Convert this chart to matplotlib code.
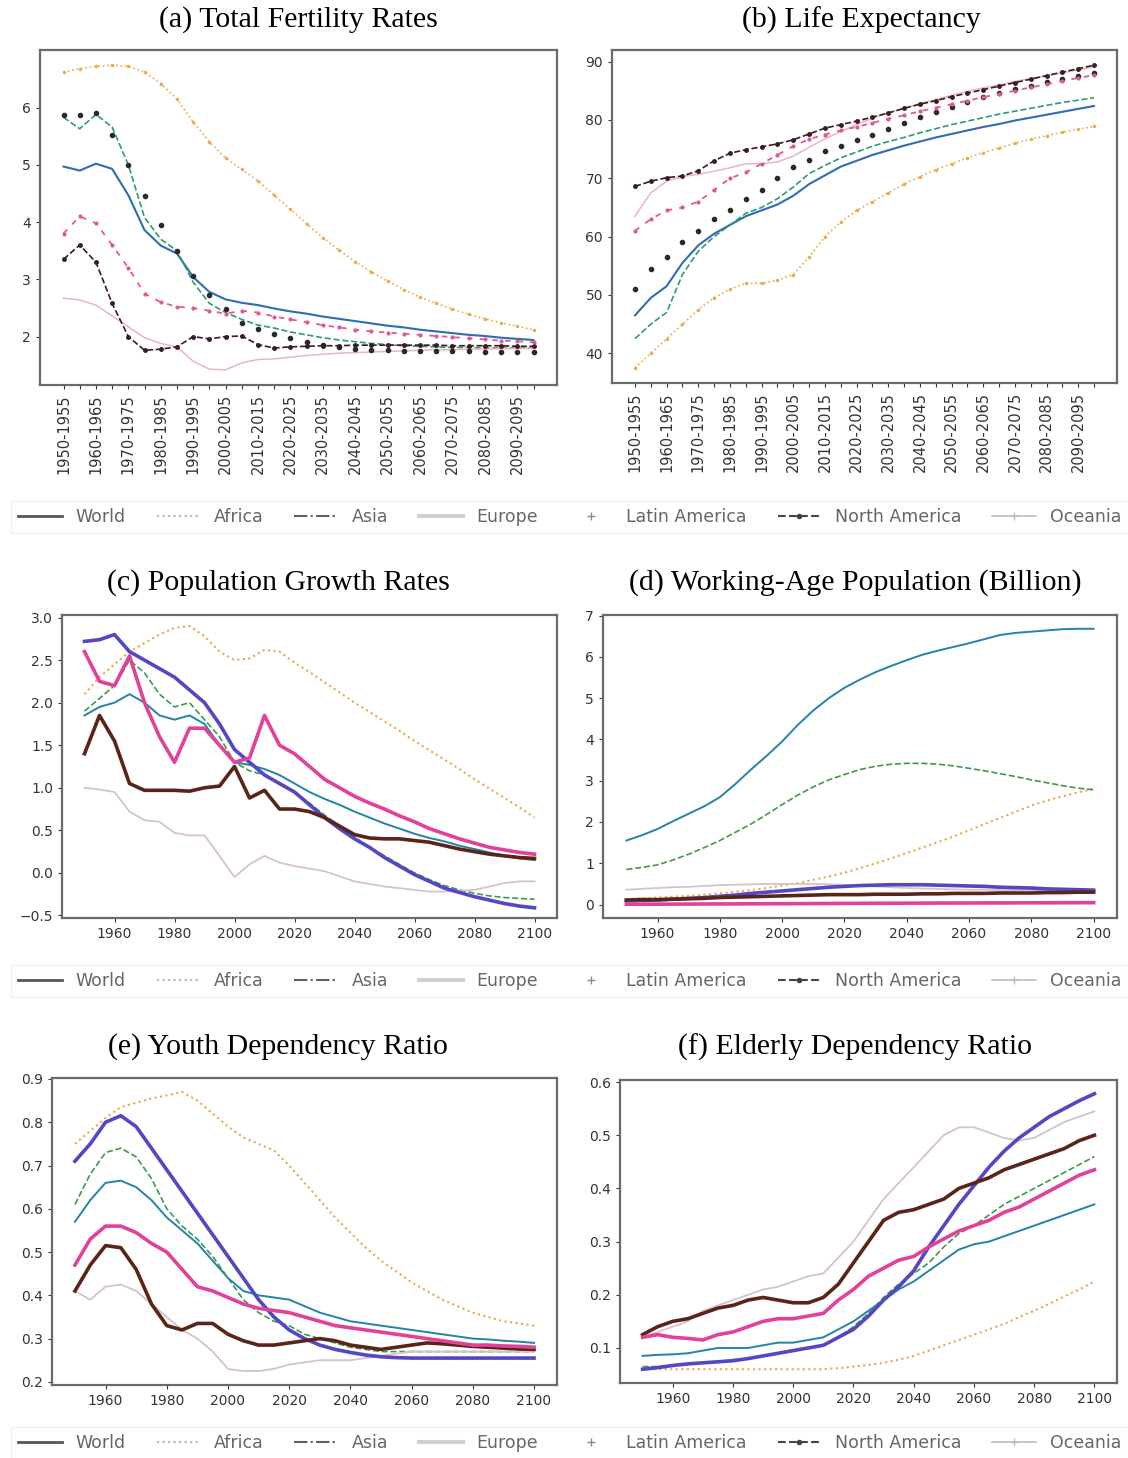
import numpy as np
import matplotlib
matplotlib.use('Agg')
import matplotlib.pyplot as plt
from matplotlib.lines import Line2D


REGIONS = ['World', 'Africa', 'Asia', 'Europe', 'Latin America', 'North America', 'Oceania']

PERIODS = [
    '1950-1955', '1955-1960', '1960-1965', '1965-1970', '1970-1975', '1975-1980',
    '1980-1985', '1985-1990', '1990-1995', '1995-2000', '2000-2005', '2005-2010',
    '2010-2015', '2015-2020', '2020-2025', '2025-2030', '2030-2035', '2035-2040',
    '2040-2045', '2045-2050', '2050-2055', '2055-2060', '2060-2065', '2065-2070',
    '2070-2075', '2075-2080', '2080-2085', '2085-2090', '2090-2095', '2095-2100',
]
YEARS = [1950, 1955, 1960, 1965, 1970, 1975, 1980, 1985, 1990, 1995, 2000,
         2005, 2010, 2015, 2020, 2025, 2030, 2035, 2040, 2045, 2050, 2055,
         2060, 2065, 2070, 2075, 2080, 2085, 2090, 2095, 2100]

# (a) total fertility rate, per 5-year period
tfr = {
    'World': [4.97, 4.90, 5.02, 4.93, 4.47, 3.86, 3.59, 3.45, 3.04, 2.78, 2.65, 2.59, 2.55, 2.49, 2.44,
              2.40, 2.35, 2.31, 2.27, 2.23, 2.19, 2.16, 2.12, 2.09, 2.06, 2.03, 2.01, 1.98, 1.96, 1.94],
    'Africa': [6.62, 6.68, 6.72, 6.74, 6.72, 6.62, 6.42, 6.15, 5.75, 5.40, 5.12, 4.92, 4.72, 4.47, 4.22,
               3.97, 3.73, 3.51, 3.31, 3.13, 2.97, 2.82, 2.69, 2.58, 2.48, 2.39, 2.31, 2.24, 2.18, 2.12],
    'Asia': [5.83, 5.63, 5.88, 5.66, 5.00, 4.08, 3.70, 3.50, 2.95, 2.58, 2.42, 2.30, 2.20, 2.15, 2.08,
             2.03, 1.98, 1.94, 1.91, 1.88, 1.86, 1.84, 1.83, 1.82, 1.81, 1.81, 1.80, 1.80, 1.80, 1.80],
    'Europe': [2.67, 2.64, 2.55, 2.36, 2.17, 1.98, 1.88, 1.82, 1.57, 1.43, 1.42, 1.54, 1.60, 1.61, 1.64,
               1.67, 1.69, 1.71, 1.72, 1.73, 1.74, 1.75, 1.76, 1.77, 1.77, 1.78, 1.78, 1.79, 1.79, 1.80],
    'Latin America': [5.87, 5.87, 5.90, 5.52, 5.00, 4.45, 3.95, 3.50, 3.05, 2.73, 2.48, 2.24, 2.13, 2.04, 1.97,
                      1.91, 1.86, 1.82, 1.79, 1.77, 1.76, 1.75, 1.75, 1.74, 1.74, 1.74, 1.73, 1.73, 1.73, 1.73],
    'North America': [3.35, 3.60, 3.30, 2.58, 2.00, 1.76, 1.78, 1.82, 2.00, 1.96, 2.00, 2.01, 1.86, 1.80, 1.82,
                      1.83, 1.84, 1.84, 1.85, 1.85, 1.85, 1.85, 1.85, 1.85, 1.84, 1.84, 1.84, 1.84, 1.83, 1.83],
    'Oceania': [3.80, 4.10, 3.98, 3.60, 3.20, 2.75, 2.60, 2.52, 2.50, 2.45, 2.40, 2.45, 2.42, 2.35, 2.30,
                2.25, 2.20, 2.16, 2.12, 2.09, 2.07, 2.05, 2.03, 2.01, 1.99, 1.97, 1.95, 1.93, 1.92, 1.90],
}

# (b) life expectancy, per 5-year period
life = {
    'World': [46.5, 49.5, 51.5, 55.5, 58.5, 60.5, 62.0, 63.5, 64.5, 65.5, 67.0, 69.0, 70.5, 72.0, 73.0,
              74.0, 74.8, 75.6, 76.3, 77.0, 77.6, 78.2, 78.8, 79.3, 79.9, 80.4, 80.9, 81.4, 81.9, 82.4],
    'Africa': [37.5, 40.0, 42.5, 45.0, 47.5, 49.5, 51.0, 52.0, 52.0, 52.5, 53.5, 56.5, 60.0, 62.5, 64.5,
               66.0, 67.5, 69.0, 70.3, 71.5, 72.5, 73.5, 74.4, 75.2, 76.0, 76.7, 77.3, 77.9, 78.4, 78.9],
    'Asia': [42.5, 45.0, 47.0, 53.5, 57.5, 60.0, 62.0, 64.0, 65.0, 66.5, 68.5, 70.8, 72.2, 73.5, 74.5,
             75.5, 76.3, 77.0, 77.8, 78.5, 79.2, 79.8, 80.4, 81.0, 81.5, 82.0, 82.5, 83.0, 83.4, 83.8],
    'Europe': [63.5, 67.5, 69.5, 70.3, 70.7, 71.2, 71.8, 72.5, 72.5, 72.8, 73.8, 75.3, 76.8, 78.0, 79.2,
               80.3, 81.2, 82.0, 82.8, 83.5, 84.2, 84.9, 85.5, 86.0, 86.6, 87.1, 87.6, 88.1, 88.6, 89.1],
    'Latin America': [51.0, 54.5, 56.5, 59.0, 61.0, 63.0, 64.5, 66.5, 68.0, 70.0, 72.0, 73.2, 74.6, 75.5, 76.5,
                      77.5, 78.5, 79.5, 80.5, 81.4, 82.3, 83.1, 83.9, 84.6, 85.3, 85.9, 86.5, 87.0, 87.5, 88.0],
    'North America': [68.6, 69.5, 70.1, 70.4, 71.3, 73.0, 74.3, 74.9, 75.4, 75.9, 76.6, 77.6, 78.6, 79.2, 79.8,
                      80.5, 81.2, 82.0, 82.7, 83.3, 84.0, 84.6, 85.2, 85.8, 86.4, 87.0, 87.6, 88.2, 88.8, 89.4],
    'Oceania': [61.0, 63.0, 64.5, 65.0, 66.0, 68.0, 70.0, 71.0, 72.5, 74.0, 75.5, 76.7, 77.5, 78.2, 78.8,
                79.5, 80.2, 80.8, 81.5, 82.1, 82.7, 83.3, 83.9, 84.5, 85.0, 85.6, 86.1, 86.7, 87.2, 87.7],
}

# (c) population growth rate (%), 1950..2100
growth = {
    'World': [1.85, 1.95, 2.0, 2.1, 2.0, 1.85, 1.8, 1.85, 1.75, 1.5, 1.3, 1.27, 1.22, 1.15, 1.05, 0.95,
              0.87, 0.8, 0.72, 0.65, 0.58, 0.52, 0.46, 0.41, 0.37, 0.32, 0.28, 0.24, 0.2, 0.17, 0.15],
    'Africa': [2.1, 2.3, 2.45, 2.6, 2.7, 2.8, 2.88, 2.9, 2.78, 2.6, 2.5, 2.52, 2.62, 2.6, 2.47, 2.36,
               2.24, 2.12, 2.0, 1.89, 1.78, 1.67, 1.55, 1.44, 1.33, 1.22, 1.1, 0.99, 0.88, 0.77, 0.65],
    'Asia': [1.9, 2.05, 2.2, 2.5, 2.35, 2.1, 1.95, 2.0, 1.8, 1.6, 1.3, 1.2, 1.15, 1.05, 0.95, 0.82,
             0.68, 0.55, 0.42, 0.3, 0.2, 0.1, 0.0, -0.08, -0.15, -0.2, -0.24, -0.27, -0.29, -0.3, -0.31],
    'Europe': [1.0, 0.98, 0.95, 0.72, 0.62, 0.6, 0.47, 0.44, 0.44, 0.2, -0.05, 0.1, 0.2, 0.12, 0.08, 0.05,
               0.02, -0.04, -0.1, -0.13, -0.16, -0.18, -0.2, -0.22, -0.22, -0.21, -0.2, -0.16, -0.12, -0.1, -0.1],
    'Latin America': [2.72, 2.74, 2.8, 2.6, 2.5, 2.4, 2.3, 2.15, 2.0, 1.75, 1.45, 1.3, 1.15, 1.05, 0.95, 0.8,
                      0.65, 0.52, 0.4, 0.3, 0.18, 0.08, -0.02, -0.1, -0.18, -0.23, -0.28, -0.32, -0.36, -0.39, -0.41],
    'North America': [1.4, 1.85, 1.55, 1.05, 0.97, 0.97, 0.97, 0.96, 1.0, 1.02, 1.25, 0.88, 0.97, 0.75, 0.75, 0.72,
                      0.65, 0.55, 0.45, 0.41, 0.4, 0.4, 0.38, 0.36, 0.32, 0.28, 0.25, 0.22, 0.2, 0.18, 0.17],
    'Oceania': [2.6, 2.25, 2.2, 2.55, 2.0, 1.6, 1.3, 1.7, 1.7, 1.5, 1.3, 1.35, 1.85, 1.5, 1.4, 1.25,
                1.1, 1.0, 0.9, 0.82, 0.75, 0.67, 0.6, 0.52, 0.46, 0.4, 0.35, 0.3, 0.27, 0.24, 0.22],
}

# (d) working-age population (billion), 1950..2100
working = {
    'World': [1.55, 1.68, 1.83, 2.02, 2.2, 2.38, 2.6, 2.92, 3.27, 3.6, 3.95, 4.35, 4.7, 5.0, 5.25, 5.45,
              5.63, 5.78, 5.92, 6.05, 6.15, 6.24, 6.33, 6.43, 6.53, 6.58, 6.61, 6.64, 6.67, 6.68, 6.68],
    'Africa': [0.13, 0.15, 0.17, 0.19, 0.21, 0.24, 0.27, 0.31, 0.35, 0.4, 0.46, 0.52, 0.6, 0.68, 0.77, 0.88,
               1.0, 1.12, 1.25, 1.38, 1.51, 1.65, 1.8, 1.95, 2.1, 2.25, 2.4, 2.52, 2.62, 2.72, 2.8],
    'Asia': [0.85, 0.9, 0.96, 1.08, 1.22, 1.38, 1.55, 1.75, 1.95, 2.18, 2.42, 2.65, 2.85, 3.02, 3.15, 3.27,
             3.35, 3.4, 3.42, 3.42, 3.4, 3.36, 3.3, 3.24, 3.17, 3.1, 3.02, 2.95, 2.88, 2.82, 2.78],
    'Europe': [0.36, 0.38, 0.4, 0.42, 0.43, 0.45, 0.47, 0.48, 0.49, 0.5, 0.5, 0.5, 0.5, 0.49, 0.48, 0.46,
               0.44, 0.42, 0.4, 0.39, 0.38, 0.37, 0.36, 0.36, 0.35, 0.35, 0.35, 0.34, 0.34, 0.34, 0.34],
    'Latin America': [0.09, 0.1, 0.11, 0.13, 0.15, 0.17, 0.2, 0.23, 0.27, 0.3, 0.33, 0.36, 0.39, 0.42, 0.44, 0.46,
                      0.47, 0.48, 0.48, 0.48, 0.47, 0.46, 0.45, 0.44, 0.42, 0.41, 0.4, 0.38, 0.37, 0.36, 0.35],
    'North America': [0.11, 0.12, 0.12, 0.13, 0.14, 0.15, 0.17, 0.18, 0.19, 0.2, 0.21, 0.22, 0.23, 0.24, 0.24, 0.24,
                      0.25, 0.25, 0.25, 0.26, 0.26, 0.27, 0.27, 0.27, 0.28, 0.28, 0.28, 0.29, 0.29, 0.3, 0.3],
    'Oceania': [0.008, 0.009, 0.01, 0.011, 0.012, 0.014, 0.015, 0.016, 0.018, 0.019, 0.02, 0.022, 0.024, 0.026, 0.028, 0.029,
                0.031, 0.032, 0.034, 0.035, 0.036, 0.037, 0.038, 0.039, 0.04, 0.041, 0.042, 0.043, 0.044, 0.045, 0.046],
}

# (e) youth dependency ratio, 1950..2100
youth = {
    'World': [0.57, 0.62, 0.66, 0.665, 0.65, 0.62, 0.58, 0.55, 0.52, 0.48, 0.44, 0.41, 0.4, 0.395, 0.39, 0.375,
              0.36, 0.35, 0.34, 0.335, 0.33, 0.325, 0.32, 0.315, 0.31, 0.305, 0.3, 0.298, 0.295, 0.293, 0.29],
    'Africa': [0.75, 0.78, 0.81, 0.835, 0.845, 0.855, 0.862, 0.87, 0.85, 0.82, 0.79, 0.765, 0.75, 0.735, 0.7, 0.66,
               0.62, 0.58, 0.545, 0.51, 0.48, 0.455, 0.43, 0.41, 0.39, 0.375, 0.36, 0.35, 0.34, 0.335, 0.33],
    'Asia': [0.61, 0.68, 0.73, 0.74, 0.72, 0.67, 0.6, 0.56, 0.53, 0.49, 0.44, 0.39, 0.36, 0.34, 0.33, 0.31,
             0.3, 0.29, 0.28, 0.275, 0.27, 0.27, 0.27, 0.27, 0.27, 0.27, 0.27, 0.27, 0.27, 0.27, 0.27],
    'Europe': [0.41, 0.39, 0.42, 0.425, 0.41, 0.38, 0.35, 0.32, 0.3, 0.27, 0.23, 0.225, 0.225, 0.23, 0.24, 0.245,
               0.25, 0.25, 0.25, 0.255, 0.26, 0.265, 0.27, 0.27, 0.27, 0.27, 0.27, 0.27, 0.27, 0.27, 0.27],
    'Latin America': [0.71, 0.75, 0.8, 0.815, 0.79, 0.74, 0.69, 0.64, 0.59, 0.54, 0.49, 0.44, 0.39, 0.35, 0.32, 0.3,
                      0.285, 0.275, 0.268, 0.262, 0.258, 0.256, 0.255, 0.255, 0.255, 0.255, 0.255, 0.255, 0.255, 0.255, 0.255],
    'North America': [0.41, 0.47, 0.515, 0.51, 0.46, 0.38, 0.33, 0.32, 0.335, 0.335, 0.31, 0.295, 0.285, 0.285, 0.29, 0.295,
                      0.3, 0.295, 0.285, 0.28, 0.275, 0.28, 0.285, 0.29, 0.288, 0.285, 0.282, 0.28, 0.278, 0.276, 0.275],
    'Oceania': [0.47, 0.53, 0.56, 0.56, 0.545, 0.52, 0.5, 0.46, 0.42, 0.41, 0.395, 0.38, 0.37, 0.365, 0.36, 0.35,
                0.34, 0.33, 0.325, 0.32, 0.315, 0.31, 0.305, 0.3, 0.295, 0.29, 0.285, 0.285, 0.283, 0.282, 0.28],
}

# (f) elderly dependency ratio, 1950..2100
elderly = {
    'World': [0.085, 0.087, 0.088, 0.09, 0.095, 0.1, 0.1, 0.1, 0.105, 0.11, 0.11, 0.115, 0.12, 0.135, 0.15, 0.17,
              0.19, 0.21, 0.225, 0.245, 0.265, 0.285, 0.295, 0.3, 0.31, 0.32, 0.33, 0.34, 0.35, 0.36, 0.37],
    'Africa': [0.06, 0.06, 0.06, 0.06, 0.06, 0.06, 0.06, 0.06, 0.06, 0.06, 0.06, 0.06, 0.06, 0.062, 0.065, 0.068,
               0.072, 0.078, 0.085, 0.095, 0.105, 0.115, 0.125, 0.135, 0.145, 0.158, 0.17, 0.183, 0.197, 0.21, 0.225],
    'Asia': [0.065, 0.065, 0.068, 0.07, 0.072, 0.074, 0.078, 0.08, 0.085, 0.09, 0.095, 0.1, 0.105, 0.12, 0.14, 0.165,
             0.195, 0.22, 0.24, 0.26, 0.29, 0.315, 0.33, 0.35, 0.37, 0.385, 0.4, 0.415, 0.43, 0.445, 0.46],
    'Europe': [0.12, 0.13, 0.14, 0.15, 0.17, 0.18, 0.19, 0.2, 0.21, 0.215, 0.225, 0.235, 0.24, 0.27, 0.3, 0.34,
               0.38, 0.41, 0.44, 0.47, 0.5, 0.515, 0.515, 0.505, 0.495, 0.49, 0.495, 0.51, 0.525, 0.535, 0.545],
    'Latin America': [0.06, 0.063, 0.067, 0.07, 0.072, 0.074, 0.076, 0.08, 0.085, 0.09, 0.095, 0.1, 0.105, 0.12, 0.135, 0.16,
                      0.19, 0.215, 0.245, 0.29, 0.33, 0.37, 0.405, 0.44, 0.47, 0.495, 0.515, 0.535, 0.55, 0.565, 0.578],
    'North America': [0.125, 0.14, 0.15, 0.155, 0.165, 0.175, 0.18, 0.19, 0.195, 0.19, 0.185, 0.185, 0.195, 0.22, 0.26, 0.3,
                      0.34, 0.355, 0.36, 0.37, 0.38, 0.4, 0.41, 0.42, 0.435, 0.445, 0.455, 0.465, 0.475, 0.49, 0.5],
    'Oceania': [0.12, 0.125, 0.12, 0.118, 0.115, 0.125, 0.13, 0.14, 0.15, 0.155, 0.155, 0.16, 0.165, 0.19, 0.21, 0.235,
                0.25, 0.265, 0.272, 0.29, 0.305, 0.32, 0.33, 0.34, 0.355, 0.365, 0.38, 0.395, 0.41, 0.425, 0.435],
}


# line styles used in the top row (period axes)
STYLE_TOP = {
    'World': dict(color='#2f6db3', lw=1.5, ls='-'),
    'Africa': dict(color='#f3a84e', lw=1.2, ls=':', marker='.', ms=3),
    'Asia': dict(color='#2f9a74', lw=1.2, ls='--'),
    'Europe': dict(color='#ecb3c2', lw=1.1, ls='-'),
    'Latin America': dict(color='#2a2a2a', lw=0, ls='none', marker='o', ms=3),
    'North America': dict(color='#3a1d1d', lw=1.2, ls='--', marker='.', ms=5),
    'Oceania': dict(color='#e0589a', lw=1.3, ls=(0, (3, 4)), marker='.', ms=4),
}

# line styles used in the lower rows (year axes)
STYLE_LOW = {
    'World': dict(color='#2583a8', lw=1.4, ls='-'),
    'Africa': dict(color='#f0a545', lw=1.5, ls=':'),
    'Asia': dict(color='#3c9a4e', lw=1.2, ls='--'),
    'Europe': dict(color='#d6c2c8', lw=1.3, ls='-'),
    'Latin America': dict(color='#5546c4', lw=2.6, ls='-'),
    'North America': dict(color='#5a2418', lw=2.6, ls='-'),
    'Oceania': dict(color='#e2419a', lw=2.6, ls='-'),
}

# gray legend handles (same strip under each row)
LEGEND_STYLE = {
    'World': dict(color='#555555', lw=2, ls='-'),
    'Africa': dict(color='#b5b5b5', lw=1.5, ls=':'),
    'Asia': dict(color='#606060', lw=1.5, ls='-.'),
    'Europe': dict(color='#d0d0d0', lw=3, ls='-'),
    'Latin America': dict(color='#8a8a8a', lw=0, ls='none', marker='+', ms=6),
    'North America': dict(color='#444444', lw=1.5, ls='--', marker='.', ms=6),
    'Oceania': dict(color='#bdbdbd', lw=1.2, ls='-', marker='+', ms=6),
}


def style_axes(ax):
    for sp in ax.spines.values():
        sp.set_color('#6a6a6a')
        sp.set_linewidth(1.6)
    ax.tick_params(labelsize=10, colors='#333333', length=3)


def add_legend(fig, y):
    handles = [Line2D([0], [0], **LEGEND_STYLE[r]) for r in REGIONS]
    leg = fig.legend(handles, REGIONS, loc='center', ncol=7, mode='expand',
                     bbox_to_anchor=(0.01, y - 0.012, 0.99, 0.024),
                     fontsize=12.5, frameon=True, handlelength=2.5,
                     borderaxespad=0, fancybox=False)
    leg.get_frame().set_edgecolor('#eeeeee')
    for t in leg.get_texts():
        t.set_color('#666666')


def main():
    W, H = 1128, 1458
    fig = plt.figure(figsize=(W / 100, H / 100), dpi=100)

    def rect(l, r, t, b):
        return [l / W, 1 - b / H, (r - l) / W, (b - t) / H]

    title_font = dict(family='Liberation Serif', fontsize=21.5, ha='center', va='center')
    year_ticks = [1960, 1980, 2000, 2020, 2040, 2060, 2080, 2100]

    # top row: categorical periods
    idx = np.arange(len(PERIODS))
    tick_labels = [p if i % 2 == 0 else '' for i, p in enumerate(PERIODS)]

    ax = fig.add_axes(rect(40, 557, 50, 385))
    for r in REGIONS:
        ax.plot(idx, tfr[r], **STYLE_TOP[r])
    ax.set_xticks(idx)
    style_axes(ax)
    ax.set_xticklabels(tick_labels, rotation=90, fontsize=10.5)
    ax.set_yticks([2, 3, 4, 5, 6])
    fig.text((40 + 557) / 2 / W, 1 - 20 / H, '(a) Total Fertility Rates', **title_font)

    ax = fig.add_axes(rect(612, 1117, 50, 383))
    for r in REGIONS:
        ax.plot(idx, life[r], **STYLE_TOP[r])
    ax.set_xticks(idx)
    style_axes(ax)
    ax.set_xticklabels(tick_labels, rotation=90, fontsize=10.5)
    ax.set_yticks([40, 50, 60, 70, 80, 90])
    fig.text(861 / W, 1 - 20 / H, '(b) Life Expectancy', **title_font)

    add_legend(fig, 1 - 517 / H)

    # middle row
    years = np.array(YEARS)
    ax = fig.add_axes(rect(62, 557, 615, 918))
    for r in REGIONS:
        ax.plot(years, growth[r], **STYLE_LOW[r])
    ax.set_ylim(-0.53, 3.03)
    ax.set_xticks(year_ticks)
    style_axes(ax)
    fig.text(278 / W, 1 - 583 / H, '(c) Population Growth Rates', **title_font)

    ax = fig.add_axes(rect(603, 1117, 615, 918))
    for r in REGIONS:
        ax.plot(years, working[r], **STYLE_LOW[r])
    ax.set_xticks(year_ticks)
    ax.set_yticks(range(0, 8))
    style_axes(ax)
    fig.text(855 / W, 1 - 583 / H, '(d) Working-Age Population (Billion)', **title_font)

    add_legend(fig, 1 - 981 / H)

    # bottom row
    ax = fig.add_axes(rect(52, 557, 1078, 1385))
    for r in REGIONS:
        ax.plot(years, youth[r], **STYLE_LOW[r])
    ax.set_xticks(year_ticks)
    style_axes(ax)
    fig.text(278 / W, 1 - 1047 / H, '(e) Youth Dependency Ratio', **title_font)

    ax = fig.add_axes(rect(620, 1117, 1080, 1383))
    for r in REGIONS:
        ax.plot(years, elderly[r], **STYLE_LOW[r])
    ax.set_xticks(year_ticks)
    style_axes(ax)
    fig.text(855 / W, 1 - 1047 / H, '(f) Elderly Dependency Ratio', **title_font)

    add_legend(fig, 1 - 1443 / H)

    fig.savefig('out.png', dpi=100)


if __name__ == '__main__':
    main()
